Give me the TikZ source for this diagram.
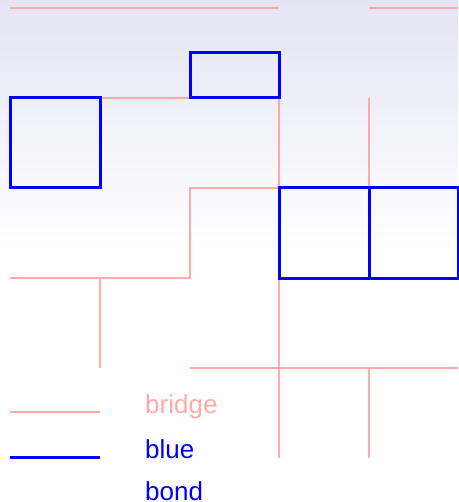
\documentclass[tikz,border=0pt]{standalone}
\usepackage{fontspec}
\setmainfont{Liberation Sans}
\definecolor{bridgepink}{RGB}{255,170,170}
\definecolor{lavender}{RGB}{228,228,244}
\begin{document}
\begin{tikzpicture}[x=1pt, y=-1pt,
    bridge/.style={draw=bridgepink, line width=1.2pt},
    bond/.style={draw=blue, line width=3pt},
    legendtext/.style={anchor=base west, inner sep=0pt, font=\fontsize{26}{30}\selectfont}
]
\useasboundingbox (0,0) rectangle (458,502);
% Background
\fill[white] (0,0) rectangle (458,502);
\shade[top color=lavender, bottom color=white] (0,0) rectangle (458,250);

% Bridges
\draw[bridge] (10,8) -- (279,8);
\draw[bridge] (369,8) -- (458,8);
\draw[bridge] (100,98) -- (190,98);
\draw[bridge] (279,98) -- (279,188);
\draw[bridge] (369,98) -- (369,188);
\draw[bridge] (279,188) -- (190,188) -- (190,278) -- (10,278);
\draw[bridge] (100,278) -- (100,368);
\draw[bridge] (279,278) -- (279,458);
\draw[bridge] (190,368) -- (458,368);
\draw[bridge] (369,368) -- (369,458);

% Bonds
\draw[draw=blue!45, line width=2pt] (369,279) -- (413,279);
\draw[bond] (10,98) rectangle (100,188);
\draw[bond] (190,53) rectangle (279,98);
\draw[bond] (279,188) rectangle (369,278);
\draw[bond] (369,188) rectangle (458,278);

% Legend
\draw[bridge] (10,412) -- (100,412);
\draw[bond] (10,457) -- (100,457);
\node[legendtext, text=bridgepink] (lbridge) at (145,413) {bridge};
\node[legendtext, text=blue] (lblue) at (145,458) {blue};
\node[legendtext, text=blue] (lbond) at (145,500) {bond};
\end{tikzpicture}
\end{document}
